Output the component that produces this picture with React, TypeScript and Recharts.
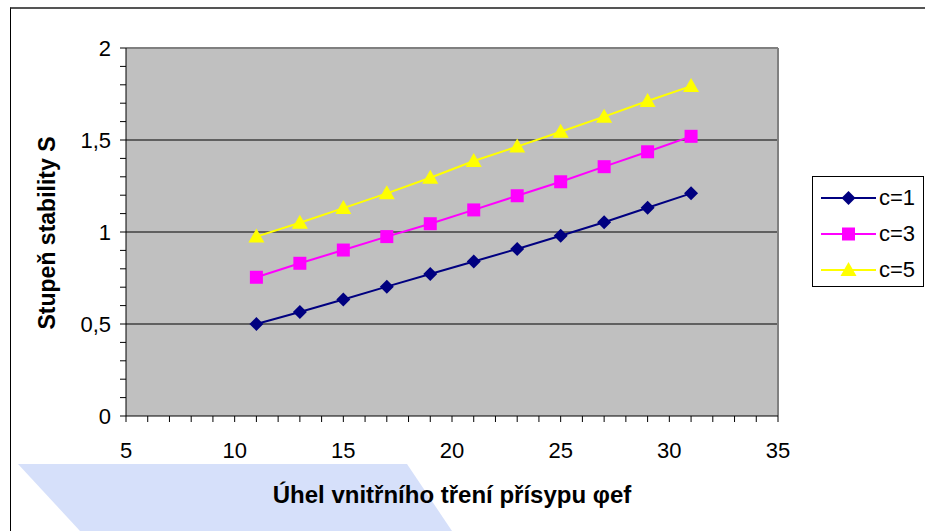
import { LineChart, Line, XAxis, YAxis, CartesianGrid, ReferenceLine } from 'recharts'

const phi = [11, 13, 15, 17, 19, 21, 23, 25, 27, 29, 31]
const c1 = [0.5, 0.565, 0.633, 0.703, 0.772, 0.84, 0.908, 0.98, 1.053, 1.132, 1.21]
const c3 = [0.754, 0.83, 0.902, 0.975, 1.045, 1.12, 1.197, 1.273, 1.355, 1.436, 1.52]
const c5 = [0.975, 1.05, 1.13, 1.21, 1.295, 1.386, 1.464, 1.545, 1.627, 1.712, 1.793]

const xTicks = [5, 6, 7, 8, 9, 10, 11, 12, 13, 14, 15, 16, 17, 18, 19, 20, 21, 22, 23, 24, 25, 26, 27, 28, 29, 30, 31, 32, 33, 34, 35]
const xLabels = [5, 10, 15, 20, 25, 30, 35]
const yTicks = [0, 0.1, 0.2, 0.3, 0.4, 0.5, 0.6, 0.7, 0.8, 0.9, 1, 1.1, 1.2, 1.3, 1.4, 1.5, 1.6, 1.7, 1.8, 1.9, 2]
const yLabels = [0, 0.5, 1, 1.5, 2]
const gridValues = [0.5, 1, 1.5]

const series = [
  { key: 'c1', name: 'c=1', color: '#000080', shape: 'diamond', values: c1 },
  { key: 'c3', name: 'c=3', color: '#ff00ff', shape: 'square', values: c3 },
  { key: 'c5', name: 'c=5', color: '#ffff00', shape: 'triangle', values: c5 },
]

const data = phi.map((x, i) => {
  const row: Record<string, number> = { phi: x }
  series.forEach((s) => (row[s.key] = s.values[i]))
  return row
})

const font = '"Liberation Sans", Arial, sans-serif'
const isLabel = (list: number[], v: number) => list.some((l) => Math.abs(l - v) < 1e-6)

const Marker = ({ cx, cy, shape, color }: { cx: number; cy: number; shape: string; color: string }) => {
  if (shape === 'diamond')
    return <polygon points={`${cx},${cy - 7} ${cx + 7},${cy} ${cx},${cy + 7} ${cx - 7},${cy}`} fill={color} />
  if (shape === 'square') return <rect x={cx - 6.5} y={cy - 6.5} width={13} height={13} fill={color} />
  return <polygon points={`${cx},${cy - 8} ${cx + 8},${cy + 6} ${cx - 8},${cy + 6}`} fill={color} />
}

const tickStyle = { fontSize: 22, fill: '#000', fontFamily: font }

export default function App() {
  return (
    <div style={{ position: 'absolute', left: 0, top: 0, width: 925, height: 531, overflow: 'hidden', background: '#fff' }}>
      <div
        style={{
          position: 'absolute',
          left: 0,
          top: 0,
          width: 925,
          height: 531,
          background: '#d6e0fa',
          clipPath: 'polygon(18px 464px, 407px 464px, 452px 531px, 80px 531px)',
        }}
      />
      <div
        style={{
          position: 'absolute',
          left: 10,
          top: 7,
          width: 940,
          height: 560,
          borderLeft: '1px solid #000',
          borderTop: '2px solid #555',
        }}
      />
      <div style={{ position: 'absolute', left: 0, top: 0 }}>
        <LineChart width={925} height={531} data={data} margin={{ top: 48, right: 147, bottom: 75, left: 66 }}>
          <CartesianGrid fill="#c0c0c0" vertical={false} horizontalValues={gridValues} stroke="#000" strokeDasharray="" />
          <ReferenceLine y={2} stroke="#808080" strokeWidth={2} />
          <ReferenceLine x={35} stroke="#808080" strokeWidth={2} />
          <XAxis
            dataKey="phi"
            type="number"
            domain={[5, 35]}
            ticks={xTicks}
            interval={0}
            height={40}
            tickSize={6}
            tickMargin={20}
            axisLine={{ stroke: '#000' }}
            tickLine={{ stroke: '#000' }}
            tick={tickStyle}
            tickFormatter={(v: number) => (isLabel(xLabels, v) ? String(v) : '')}
          />
          <YAxis
            type="number"
            domain={[0, 2]}
            ticks={yTicks}
            interval={0}
            width={60}
            tickSize={6}
            tickMargin={9}
            axisLine={{ stroke: '#000' }}
            tickLine={{ stroke: '#000' }}
            tick={tickStyle}
            tickFormatter={(v: number) => (isLabel(yLabels, v) ? String(v).replace('.', ',') : '')}
          />
          {series.map((s) => (
            <Line
              key={s.key}
              dataKey={s.key}
              name={s.name}
              stroke={s.color}
              strokeWidth={2}
              isAnimationActive={false}
              activeDot={false}
              dot={(p: any) => <Marker key={`${s.key}-${p.index}`} cx={p.cx} cy={p.cy} shape={s.shape} color={s.color} />}
            />
          ))}
        </LineChart>
      </div>
      <div
        style={{
          position: 'absolute',
          left: 47,
          top: 233,
          transform: 'translate(-50%, -50%) rotate(-90deg)',
          whiteSpace: 'nowrap',
          fontFamily: font,
          fontWeight: 'bold',
          fontSize: 23,
        }}
      >
        Stupeň stability S
      </div>
      <div
        style={{
          position: 'absolute',
          left: 452,
          top: 495,
          transform: 'translate(-50%, -50%)',
          whiteSpace: 'nowrap',
          fontFamily: font,
          fontWeight: 'bold',
          fontSize: 24,
        }}
      >
        Úhel vnitřního tření přísypu φef
      </div>
      <div
        style={{
          position: 'absolute',
          left: 812,
          top: 176,
          width: 112,
          height: 111,
          border: '1px solid #000',
          background: '#fff',
          boxSizing: 'border-box',
        }}
      >
        {series.map((s, i) => (
          <div key={s.key} style={{ position: 'absolute', left: 8, top: 10 + i * 36, height: 22, display: 'flex', alignItems: 'center' }}>
            <svg width={55} height={22}>
              <line x1={0} y1={11} x2={55} y2={11} stroke={s.color} strokeWidth={2} />
              <Marker cx={27.5} cy={11} shape={s.shape} color={s.color} />
            </svg>
            <span style={{ fontFamily: font, fontSize: 22, marginLeft: 3 }}>{s.name}</span>
          </div>
        ))}
      </div>
    </div>
  )
}
